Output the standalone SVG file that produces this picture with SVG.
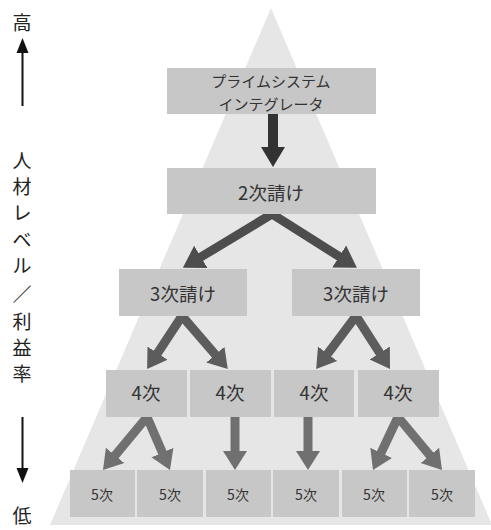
<svg xmlns="http://www.w3.org/2000/svg" width="491" height="530" viewBox="0 0 491 530">
<style>
.box{fill:#c7c7c7}
.t{font-family:"Noto Sans CJK JP","Noto Sans",sans-serif;fill:#333;text-anchor:middle}
.p{font-size:15px}
.l{font-size:18.5px}
.s{font-size:14px}
.ax{font-family:"Noto Sans CJK JP",sans-serif;font-size:19px;fill:#222;text-anchor:middle}
</style>
<defs>
<marker id="h0" markerUnits="userSpaceOnUse" viewBox="-1 -13 21 26" markerWidth="21" markerHeight="26" refX="0" refY="0" orient="auto"><path d="M-1,-12 L19,0 L-1,12 Z" fill="#333"/></marker>
<marker id="h1" markerUnits="userSpaceOnUse" viewBox="-1 -14 21 28" markerWidth="21" markerHeight="28" refX="0" refY="0" orient="auto"><path d="M-1,-13 L20,0 L-1,13 Z" fill="#4d4d4d"/></marker>
<marker id="h2" markerUnits="userSpaceOnUse" viewBox="-1 -13 20 26" markerWidth="20" markerHeight="26" refX="0" refY="0" orient="auto"><path d="M-1,-12 L18,0 L-1,12 Z" fill="#5c5c5c"/></marker>
<marker id="h3" markerUnits="userSpaceOnUse" viewBox="-1 -13 20 26" markerWidth="20" markerHeight="26" refX="0" refY="0" orient="auto"><path d="M-1,-12 L18,0 L-1,12 Z" fill="#707070"/></marker>
<marker id="ha" markerUnits="userSpaceOnUse" viewBox="-1 -7 16 14" markerWidth="16" markerHeight="14" refX="0" refY="0" orient="auto"><path d="M-1,-6 L14,0 L-1,6 Z" fill="#111"/></marker>
</defs>
<rect width="491" height="530" fill="#fff"/>
<polygon points="271,8 50,525 492,525" fill="#e6e6e6"/>

<g id="axis">
<text class="ax" x="22" y="30">高</text>
<line x1="22.5" y1="106" x2="22.5" y2="52" stroke="#111" stroke-width="2" marker-end="url(#ha)"/>
<text class="ax" x="22" y="168">人</text>
<text class="ax" x="22" y="194">材</text>
<text class="ax" x="22" y="220">レ</text>
<text class="ax" x="22" y="247">ベ</text>
<text class="ax" x="22" y="273">ル</text>
<text class="ax" x="22" y="302">／</text>
<text class="ax" x="22" y="329">利</text>
<text class="ax" x="22" y="355">益</text>
<text class="ax" x="22" y="381">率</text>
<line x1="22.5" y1="417" x2="22.5" y2="469" stroke="#111" stroke-width="2" marker-end="url(#ha)"/>
<text class="ax" x="22" y="523">低</text>
</g>

<g id="connectors" fill="none">
<line x1="273" y1="114" x2="273" y2="148" stroke="#333" stroke-width="10" marker-end="url(#h0)"/>
<line x1="272" y1="214" x2="200" y2="257.5" stroke="#4d4d4d" stroke-width="9" marker-end="url(#h1)"/>
<line x1="272" y1="214" x2="340" y2="257" stroke="#4d4d4d" stroke-width="9" marker-end="url(#h1)"/>
<line x1="182" y1="316" x2="157" y2="354" stroke="#5c5c5c" stroke-width="9" marker-end="url(#h2)"/>
<line x1="182" y1="316" x2="216" y2="355.4" stroke="#5c5c5c" stroke-width="9" marker-end="url(#h2)"/>
<line x1="356" y1="316" x2="327" y2="354.6" stroke="#5c5c5c" stroke-width="9" marker-end="url(#h2)"/>
<line x1="356" y1="316" x2="380.3" y2="353.9" stroke="#5c5c5c" stroke-width="9" marker-end="url(#h2)"/>
<line x1="147" y1="417" x2="114.5" y2="456.2" stroke="#707070" stroke-width="9" marker-end="url(#h3)"/>
<line x1="147" y1="417" x2="162.8" y2="453.5" stroke="#707070" stroke-width="9" marker-end="url(#h3)"/>
<line x1="235" y1="417" x2="235" y2="452" stroke="#707070" stroke-width="9" marker-end="url(#h3)"/>
<line x1="308" y1="417" x2="308" y2="452" stroke="#707070" stroke-width="9" marker-end="url(#h3)"/>
<line x1="398" y1="417" x2="380.7" y2="453.7" stroke="#707070" stroke-width="9" marker-end="url(#h3)"/>
<line x1="398" y1="417" x2="430.5" y2="456.2" stroke="#707070" stroke-width="9" marker-end="url(#h3)"/>
</g>

<g id="psi"><rect class="box" x="167" y="68" width="209" height="46"/>
<text class="t p" x="271" y="87">プライムシステム</text><text class="t p" x="271" y="109.5">インテグレータ</text></g>
<g id="n2"><rect class="box" x="167" y="168" width="209" height="46"/><text class="t l" x="271" y="200">2次請け</text></g>
<g id="n3a"><rect class="box" x="119" y="269" width="128" height="47"/><text class="t l" x="183" y="301">3次請け</text></g>
<g id="n3b"><rect class="box" x="292" y="269" width="128" height="47"/><text class="t l" x="356" y="301">3次請け</text></g>
<g id="n4a"><rect class="box" x="106" y="370" width="81" height="47"/><text class="t l" x="146" y="400">4次</text></g>
<g id="n4b"><rect class="box" x="190" y="370" width="81" height="47"/><text class="t l" x="230" y="400">4次</text></g>
<g id="n4c"><rect class="box" x="274" y="370" width="80" height="47"/><text class="t l" x="314" y="400">4次</text></g>
<g id="n4d"><rect class="box" x="358" y="370" width="81" height="47"/><text class="t l" x="398" y="400">4次</text></g>
<g id="n5a"><rect class="box" x="70" y="470" width="65" height="47"/><text class="t s" x="102" y="500">5次</text></g>
<g id="n5b"><rect class="box" x="137" y="470" width="66" height="47"/><text class="t s" x="170" y="500">5次</text></g>
<g id="n5c"><rect class="box" x="206" y="470" width="65" height="47"/><text class="t s" x="238" y="500">5次</text></g>
<g id="n5d"><rect class="box" x="273" y="470" width="66" height="47"/><text class="t s" x="306" y="500">5次</text></g>
<g id="n5e"><rect class="box" x="342" y="470" width="65" height="47"/><text class="t s" x="374" y="500">5次</text></g>
<g id="n5f"><rect class="box" x="409" y="470" width="66" height="47"/><text class="t s" x="442" y="500">5次</text></g>
</svg>
